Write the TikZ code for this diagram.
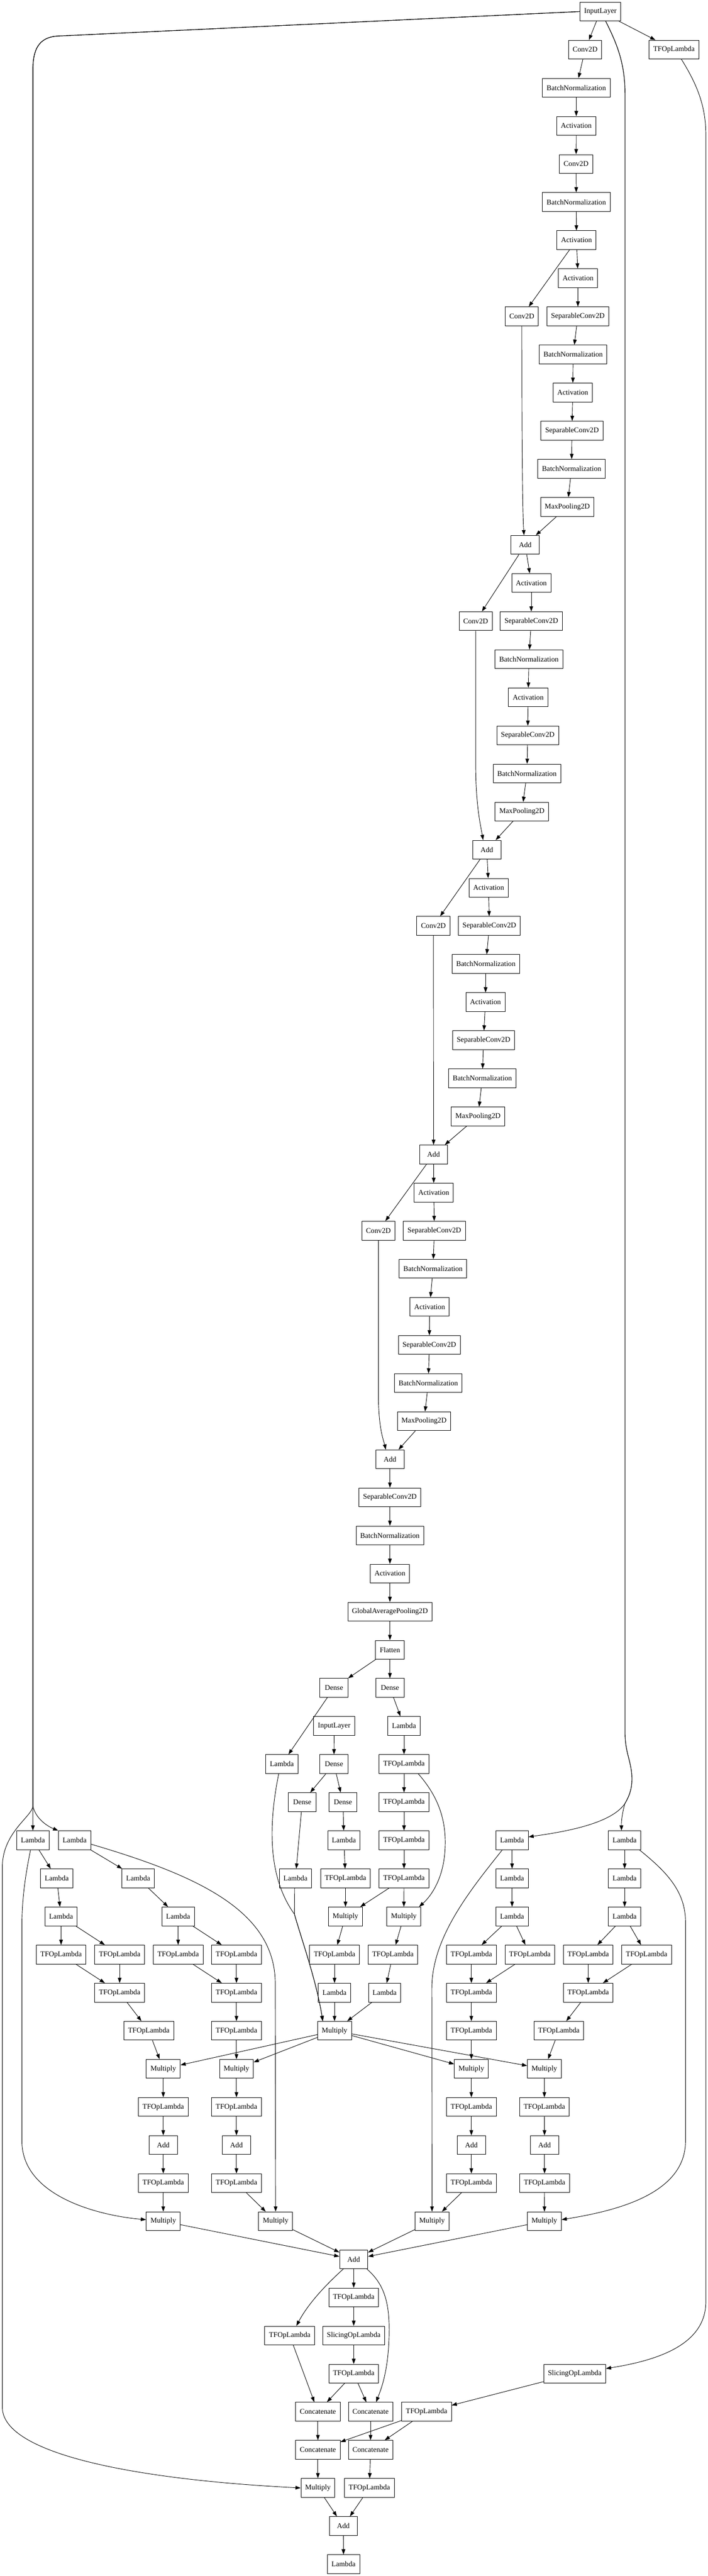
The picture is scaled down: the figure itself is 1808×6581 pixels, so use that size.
\documentclass[tikz,border=0pt]{standalone}
\usepackage{fontspec}
\setmainfont{Liberation Serif}
\usetikzlibrary{arrows.meta,calc}
\tikzset{
  box/.style={draw, rectangle, line width=0.9pt, minimum height=36pt, minimum width=54pt,
    inner xsep=8pt, inner ysep=0pt, font=\fontsize{14pt}{16pt}\selectfont},
  arr/.style={-{Triangle[length=10pt,width=7pt]}, line width=0.9pt},
}
\newcommand{\gnode}[4]{\node[box] (#1) at (#2,{29.5+97.33*#3}) {#4};}
\newcommand{\edg}[2]{\draw[arr] (#1) -- (#2);}
\begin{document}
\begin{tikzpicture}[x=0.75pt,y=-0.75pt]
\useasboundingbox (0,0) rectangle (1808,6581);
% ---------------- nodes ----------------
\gnode{n0}{1533.5}{0}{InputLayer}
\gnode{n1}{1494.5}{1}{Conv2D}
\gnode{t1}{1721.5}{1}{TFOpLambda}
\gnode{n2}{1472}{2}{BatchNormalization}
\gnode{n3}{1472}{3}{Activation}
\gnode{n4}{1471.5}{4}{Conv2D}
\gnode{n5}{1472}{5}{BatchNormalization}
\gnode{n6}{1472.5}{6}{Activation}
\gnode{n7}{1476.5}{7}{Activation}
\gnode{c8}{1333}{8}{Conv2D}
\gnode{s8}{1476}{8}{SeparableConv2D}
\gnode{n9}{1464}{9}{BatchNormalization}
\gnode{n10}{1463}{10}{Activation}
\gnode{n11}{1461}{11}{SeparableConv2D}
\gnode{n12}{1460}{12}{BatchNormalization}
\gnode{n13}{1449}{13}{MaxPooling2D}
\gnode{a14}{1341.5}{14}{Add}
\gnode{n15}{1357}{15}{Activation}
\gnode{c16}{1215}{16}{Conv2D}
\gnode{s16}{1357}{16}{SeparableConv2D}
\gnode{n17}{1351}{17}{BatchNormalization}
\gnode{n18}{1349}{18}{Activation}
\gnode{n19}{1348}{19}{SeparableConv2D}
\gnode{n20}{1346}{20}{BatchNormalization}
\gnode{n21}{1333}{21}{MaxPooling2D}
\gnode{a22}{1243.5}{22}{Add}
\gnode{n23}{1248}{23}{Activation}
\gnode{c24}{1107}{24}{Conv2D}
\gnode{s24}{1250}{24}{SeparableConv2D}
\gnode{n25}{1241}{25}{BatchNormalization}
\gnode{n26}{1240}{26}{Activation}
\gnode{n27}{1235}{27}{SeparableConv2D}
\gnode{n28}{1232}{28}{BatchNormalization}
\gnode{n29}{1221}{29}{MaxPooling2D}
\gnode{a30}{1107.5}{30}{Add}
\gnode{n31}{1108}{31}{Activation}
\gnode{c32}{966.5}{32}{Conv2D}
\gnode{s32}{1109.5}{32}{SeparableConv2D}
\gnode{n33}{1106}{33}{BatchNormalization}
\gnode{n34}{1097.5}{34}{Activation}
\gnode{n35}{1096.5}{35}{SeparableConv2D}
\gnode{n36}{1094}{36}{BatchNormalization}
\gnode{n37}{1083}{37}{MaxPooling2D}
\gnode{a38}{996}{38}{Add}
\gnode{n39}{996}{39}{SeparableConv2D}
\gnode{n40}{996}{40}{BatchNormalization}
\gnode{n41}{996}{41}{Activation}
\gnode{n42}{996}{42}{GlobalAveragePooling2D}
\gnode{n43}{996}{43}{Flatten}
\gnode{d44a}{853}{44}{Dense}
\gnode{d44b}{996}{44}{Dense}
\gnode{i45}{853.5}{45}{InputLayer}
\gnode{l45}{1032}{45}{Lambda}
\gnode{l46}{720}{46}{Lambda}
\gnode{d46}{853}{46}{Dense}
\gnode{t46}{1032}{46}{TFOpLambda}
\gnode{d47a}{772}{47}{Dense}
\gnode{d47b}{876}{47}{Dense}
\gnode{t47}{1032}{47}{TFOpLambda}
% rank 48
\gnode{La48}{84}{48}{Lambda}
\gnode{Lb48}{190.6}{48}{Lambda}
\gnode{Lc48}{878.5}{48}{Lambda}
\gnode{T48}{1032}{48}{TFOpLambda}
\gnode{Ld48}{1308}{48}{Lambda}
\gnode{Le48}{1595.5}{48}{Lambda}
% rank 49
\gnode{La49}{145}{49}{Lambda}
\gnode{Lb49}{353}{49}{Lambda}
\gnode{Lc49}{754.6}{49}{Lambda}
\gnode{Ta49}{882.5}{49}{TFOpLambda}
\gnode{Tb49}{1032}{49}{TFOpLambda}
\gnode{Ld49}{1308}{49}{Lambda}
\gnode{Le49}{1595.5}{49}{Lambda}
% rank 50
\gnode{La50}{156}{50}{Lambda}
\gnode{Lb50}{455}{50}{Lambda}
\gnode{Ma50}{882.5}{50}{Multiply}
\gnode{Mb50}{1031.5}{50}{Multiply}
\gnode{Ld50}{1308}{50}{Lambda}
\gnode{Le50}{1595.5}{50}{Lambda}
% rank 51
\gnode{Ta51}{156}{51}{TFOpLambda}
\gnode{Tb51}{305.6}{51}{TFOpLambda}
\gnode{Tc51}{455}{51}{TFOpLambda}
\gnode{Td51}{604}{51}{TFOpLambda}
\gnode{Tx51}{854.5}{51}{TFOpLambda}
\gnode{Ty51}{1003.5}{51}{TFOpLambda}
\gnode{Te51}{1204}{51}{TFOpLambda}
\gnode{Tf51}{1353.5}{51}{TFOpLambda}
\gnode{Tg51}{1502.5}{51}{TFOpLambda}
\gnode{Th51}{1651.5}{51}{TFOpLambda}
% rank 52
\gnode{Ta52}{305.6}{52}{TFOpLambda}
\gnode{Tb52}{604}{52}{TFOpLambda}
\gnode{Lx52}{854.5}{52}{Lambda}
\gnode{Ly52}{982.5}{52}{Lambda}
\gnode{Tc52}{1204}{52}{TFOpLambda}
\gnode{Td52}{1502.5}{52}{TFOpLambda}
% rank 53
\gnode{Ta53}{380}{53}{TFOpLambda}
\gnode{Tb53}{604}{53}{TFOpLambda}
\gnode{M53}{854.5}{53}{Multiply}
\gnode{Tc53}{1204}{53}{TFOpLambda}
\gnode{Td53}{1427.5}{53}{TFOpLambda}
% rank 54
\gnode{Ma54}{417}{54}{Multiply}
\gnode{Mb54}{604}{54}{Multiply}
\gnode{Mc54}{1204}{54}{Multiply}
\gnode{Md54}{1390.5}{54}{Multiply}
% rank 55
\gnode{Ta55}{417}{55}{TFOpLambda}
\gnode{Tb55}{604}{55}{TFOpLambda}
\gnode{Tc55}{1204}{55}{TFOpLambda}
\gnode{Td55}{1390.5}{55}{TFOpLambda}
% rank 56
\gnode{Aa56}{417}{56}{Add}
\gnode{Ab56}{604}{56}{Add}
\gnode{Ac56}{1204}{56}{Add}
\gnode{Ad56}{1391}{56}{Add}
% rank 57
\gnode{Ta57}{417}{57}{TFOpLambda}
\gnode{Tb57}{604}{57}{TFOpLambda}
\gnode{Tc57}{1204}{57}{TFOpLambda}
\gnode{Td57}{1391}{57}{TFOpLambda}
% rank 58
\gnode{Ma58}{417}{58}{Multiply}
\gnode{Mb58}{704}{58}{Multiply}
\gnode{Mc58}{1103.5}{58}{Multiply}
\gnode{Md58}{1390.5}{58}{Multiply}
% bottom
\gnode{A59}{903.5}{59}{Add}
\gnode{T60}{903.5}{60}{TFOpLambda}
\gnode{T61}{740}{61}{TFOpLambda}
\gnode{S61}{903.5}{61}{SlicingOpLambda}
\gnode{T62}{903.5}{62}{TFOpLambda}
\gnode{S62}{1468}{62}{SlicingOpLambda}
\gnode{Ca63}{812}{63}{Concatenate}
\gnode{Cb63}{946.5}{63}{Concatenate}
\gnode{T63}{1089.5}{63}{TFOpLambda}
\gnode{Ca64}{812}{64}{Concatenate}
\gnode{Cb64}{946.5}{64}{Concatenate}
\gnode{M65}{812}{65}{Multiply}
\gnode{T65}{943.5}{65}{TFOpLambda}
\gnode{A66}{877}{66}{Add}
\gnode{L67}{877.5}{67}{Lambda}
% ---------------- main chain edges ----------------
\edg{n0}{n1}\edg{n0}{t1}\edg{n1}{n2}\edg{n2}{n3}\edg{n3}{n4}\edg{n4}{n5}\edg{n5}{n6}
\edg{n6}{n7}\edg{n6}{c8}\edg{n7}{s8}\edg{s8}{n9}\edg{n9}{n10}\edg{n10}{n11}\edg{n11}{n12}
\edg{n12}{n13}\edg{n13}{a14}
\draw[arr] (c8.south) .. controls (1333,1250) and (1336,1330) .. ($(a14.north)+(-3,0)$);
\edg{a14}{n15}\edg{a14}{c16}\edg{n15}{s16}\edg{s16}{n17}\edg{n17}{n18}\edg{n18}{n19}
\edg{n19}{n20}\edg{n20}{n21}\edg{n21}{a22}
\draw[arr] (c16.south) -- (1215,1950) .. controls (1215,2060) and (1228,2110) .. ($(a22.north)+(-9.5,0)$);
\edg{a22}{n23}\edg{a22}{c24}\edg{n23}{s24}\edg{s24}{n25}\edg{n25}{n26}\edg{n26}{n27}
\edg{n27}{n28}\edg{n28}{n29}\edg{n29}{a30}\edg{c24}{a30}
\edg{a30}{n31}\edg{a30}{c32}\edg{n31}{s32}\edg{s32}{n33}\edg{n33}{n34}\edg{n34}{n35}
\edg{n35}{n36}\edg{n36}{n37}\edg{n37}{a38}
\draw[arr] (c32.south) -- (966.5,3560) .. controls (966.5,3650) and (980,3680) .. ($(a38.north)+(-10.5,0)$);
\edg{a38}{n39}\edg{n39}{n40}\edg{n40}{n41}\edg{n41}{n42}\edg{n42}{n43}
\edg{n43}{d44a}\edg{n43}{d44b}\edg{d44a}{l46}\edg{d44b}{l45}\edg{i45}{d46}\edg{l45}{t46}
\edg{d46}{d47a}\edg{d46}{d47b}\edg{t46}{t47}
% ---------------- middle cluster ----------------
\edg{d47a}{Lc49}\edg{d47b}{Lc48}\edg{t47}{T48}\edg{Lc48}{Ta49}\edg{T48}{Tb49}
\edg{Ta49}{Ma50}\edg{Tb49}{Ma50}\edg{Tb49}{Mb50}\edg{Ma50}{Tx51}\edg{Mb50}{Ty51}
\edg{Tx51}{Lx52}\edg{Ty51}{Ly52}\edg{Lx52}{M53}\edg{Ly52}{M53}
\draw[arr] ($(t46.south east)+(-28,0)$) .. controls (1120,4590) and (1140,4650) .. (1137,4720)
   .. controls (1134,4800) and (1100,4845) .. ($(Mb50.north east)+(-5,0)$);
\draw[arr] ($(l46.south)+(-8,0)$) .. controls (688,4650) and (680,4790) .. (752,4890)
   .. controls (772,4960) and (808,5060) .. ($(M53.north)+(-30,0)$);
\draw[arr] ($(Lc49.south)+(-2,0)$) -- (752,4890)
   .. controls (772,4960) and (808,5060) .. ($(M53.north)+(-30,0)$);
\edg{M53}{Ma54}\edg{M53}{Mb54}\edg{M53}{Mc54}\edg{M53}{Md54}
% ---------------- left cluster ----------------
\edg{La48}{La49}\edg{La49}{La50}\edg{La50}{Ta51}\edg{La50}{Tb51}\edg{Ta51}{Ta52}\edg{Tb51}{Ta52}
\edg{Ta52}{Ta53}\edg{Ta53}{Ma54}\edg{Ma54}{Ta55}\edg{Ta55}{Aa56}\edg{Aa56}{Ta57}\edg{Ta57}{Ma58}
\edg{Lb48}{Lb49}\edg{Lb49}{Lb50}\edg{Lb50}{Tc51}\edg{Lb50}{Td51}\edg{Tc51}{Tb52}\edg{Td51}{Tb52}
\edg{Tb52}{Tb53}\edg{Tb53}{Mb54}\edg{Mb54}{Tb55}\edg{Tb55}{Ab56}\edg{Ab56}{Tb57}\edg{Tb57}{Mb58}
\draw[arr] ($(La48.south)+(-6,0)$) .. controls (65,4790) and (56,4850) .. (56,4920) -- (56,5470)
   .. controls (56,5610) and (250,5660) .. ($(Ma58.west)+(0,-4)$);
\draw[arr] ($(Lb48.east)+(0,10)$) .. controls (500,4790) and (703,4880) .. (703,5067) -- (Mb58.north);
% ---------------- right cluster ----------------
\edg{Ld48}{Ld49}\edg{Ld49}{Ld50}\edg{Ld50}{Te51}\edg{Ld50}{Tf51}\edg{Te51}{Tc52}\edg{Tf51}{Tc52}
\edg{Tc52}{Tc53}\edg{Tc53}{Mc54}\edg{Mc54}{Tc55}\edg{Tc55}{Ac56}\edg{Ac56}{Tc57}\edg{Tc57}{Mc58}
\edg{Le48}{Le49}\edg{Le49}{Le50}\edg{Le50}{Tg51}\edg{Le50}{Th51}\edg{Tg51}{Td52}\edg{Th51}{Td52}
\edg{Td52}{Td53}\edg{Td53}{Md54}\edg{Md54}{Td55}\edg{Td55}{Ad56}\edg{Ad56}{Td57}\edg{Td57}{Md58}
\draw[arr] ($(Ld48.south)+(-25,0)$) .. controls (1200,4830) and (1103,4950) .. (1103,5080) -- (Mc58.north);
\draw[arr] ($(Le48.south east)+(-4,0)$) .. controls (1700,4780) and (1751,4830) .. (1751,4910) -- (1751,5470)
   .. controls (1751,5610) and (1560,5650) .. ($(Md58.east)+(0,-4)$);
% ---------------- bottom ----------------
\edg{Ma58}{A59}\edg{Mb58}{A59}\edg{Mc58}{A59}\edg{Md58}{A59}
\edg{A59}{T60}\edg{T60}{S61}\edg{S61}{T62}
\draw[arr] ($(A59.south)+(-26.5,0)$) .. controls (840,5830) and (790,5880) .. ($(T61.north)+(17,0)$);
\draw[arr] ($(A59.south east)+(-3,0)$) .. controls (975,5830) and (994,5870) .. (994,5950)
   .. controls (994,6050) and (975,6100) .. ($(Cb63.north)+(14,0)$);
\edg{T61}{Ca63}\edg{T62}{Ca63}\edg{T62}{Cb63}\edg{S62}{T63}
\edg{Ca63}{Ca64}\edg{T63}{Ca64}\edg{Cb63}{Cb64}\edg{T63}{Cb64}
\edg{Ca64}{M65}\edg{Cb64}{T65}\edg{M65}{A66}\edg{T65}{A66}\edg{A66}{L67}
% ---------------- long edges from InputLayer ----------------
\coordinate (lsplit) at (84,4613);
\coordinate (rsplit) at (1596,4608);
\draw[arr] (n0.west) -- (150,92) .. controls (96,94) and (84,130) .. (84,180) -- (lsplit) -- (La48.north);
\draw[arr] (n0.west) -- (150,92) .. controls (96,94) and (84,130) .. (84,180) -- (lsplit)
   .. controls (90,4645) and (120,4665) .. (Lb48.north west);
\draw[arr] (n0.west) -- (150,92) .. controls (96,94) and (84,130) .. (84,180) -- (lsplit)
   .. controls (84,4640) and (6,4680) .. (6,4770) -- (6,6150)
   .. controls (6,6270) and (350,6335) .. (M65.west);
\draw[arr] ($(n0.south)+(13.5,0)$) .. controls (1575,110) and (1596.5,160) .. (1596.5,240) -- (1596.5,4426)
   .. controls (1596.5,4480) and (1614,4500) .. (1614,4545) .. controls (1614,4575) and (1605,4592) .. (rsplit)
   .. controls (1590,4630) and (1587,4650) .. ($(Le48.north)+(-8,0)$);
\draw[arr] ($(n0.south)+(13.5,0)$) .. controls (1575,110) and (1596.5,160) .. (1596.5,240) -- (1596.5,4426)
   .. controls (1596.5,4480) and (1614,4500) .. (1614,4545) .. controls (1614,4575) and (1605,4592) .. (rsplit)
   .. controls (1560,4660) and (1440,4680) .. ($(Ld48.north east)+(0,16)$);
% TFOpLambda -> SlicingOpLambda
\draw[arr] ($(t1.south)+(19,0)$) .. controls (1780,215) and (1803,270) .. (1803,345) -- (1803,5880)
   .. controls (1803,5990) and (1680,6030) .. ($(S62.east)+(0,-13)$);
\end{tikzpicture}
\end{document}
